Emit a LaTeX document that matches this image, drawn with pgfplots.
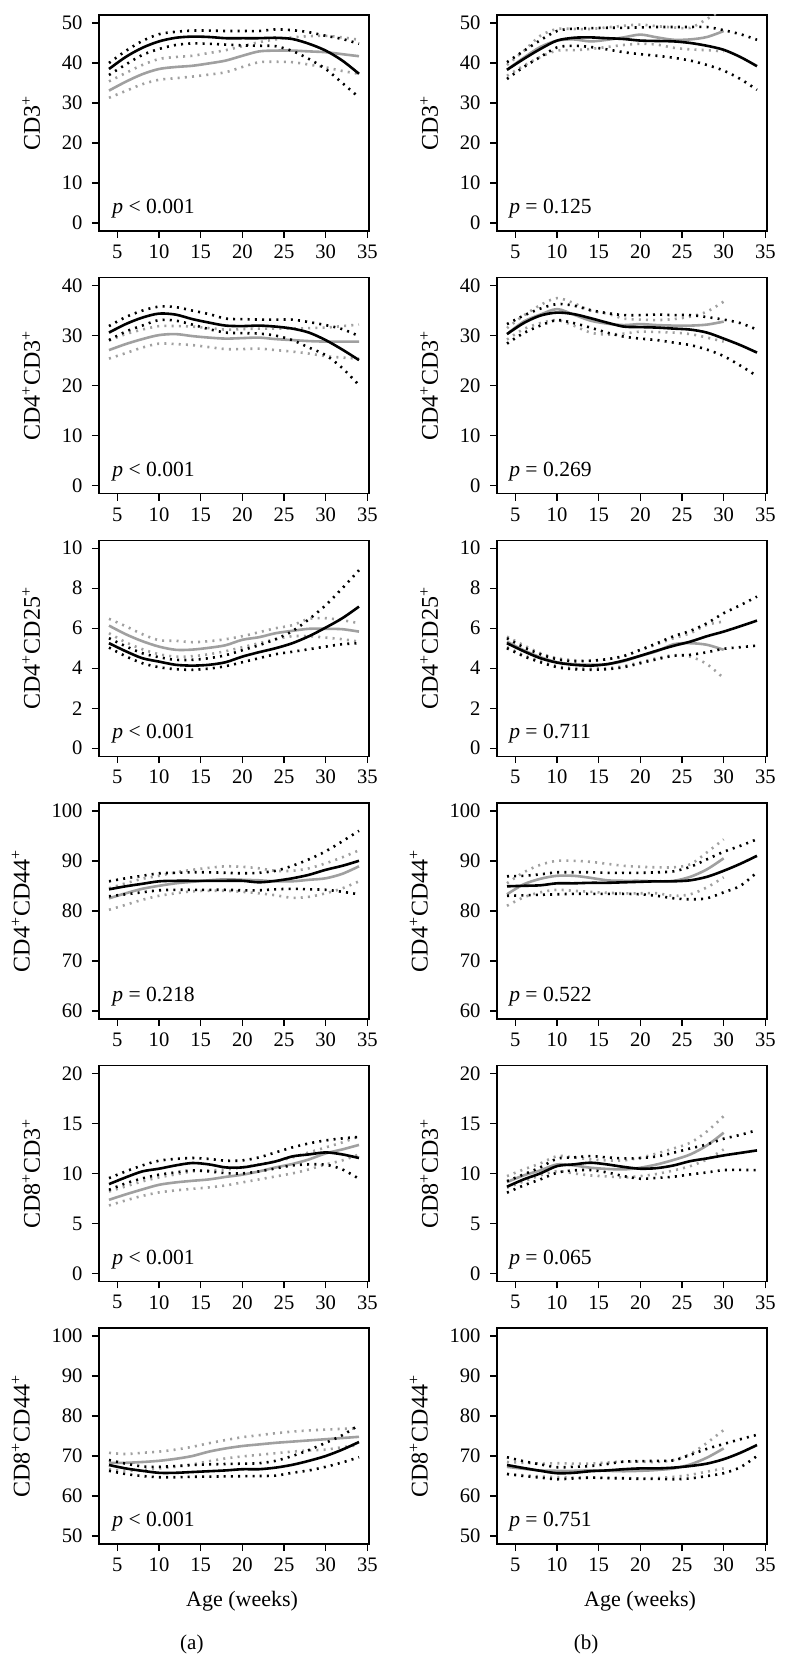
\documentclass[border=0pt]{standalone}
\usepackage{fontspec}
\setmainfont{Liberation Serif}
\usepackage{pgfplots}
\usepackage{pgfplotstable}
\pgfplotsset{compat=1.18}

\definecolor{lgray}{RGB}{160,160,160}

% columns: age, black mean/upper/lower, grey mean/upper/lower
\pgfplotstableread{
x B BU BL G GU GL
4 38.5 40.0 37.0 33.1 35.4 31.3
6 41.5 43.0 39.6 35.3 37.5 33.0
8 43.8 45.5 42.0 37.2 39.5 34.7
10 45.4 47.2 43.5 38.5 41.0 35.8
12 46.3 47.8 44.5 39.0 41.5 36.2
14 46.6 48.1 44.9 39.3 41.8 36.6
16 46.5 48.1 44.8 39.9 42.5 37.1
18 46.2 48.0 44.6 40.6 43.2 37.7
20 46.2 48.0 44.4 41.8 44.2 39.0
22 46.2 48.0 44.3 42.9 45.2 40.2
24 46.3 48.4 44.2 43.1 45.9 40.3
26 46.0 48.2 43.0 43.1 46.4 40.2
28 44.8 47.7 41.0 42.9 46.7 39.6
30 43.1 46.8 38.5 42.7 46.8 38.9
32 40.6 46.0 35.0 42.2 46.4 38.0
34 37.3 44.8 31.4 41.7 45.8 37.3
}\dataA
\pgfplotstableread{
x B BU BL G GU GL
4 38.3 40.2 36.0 38.3 39.5 36.8
6 41.0 43.0 39.0 41.3 43.0 39.3
8 43.5 45.7 41.5 44.0 46.8 41.5
10 45.6 48.0 43.9 45.6 48.5 43.1
12 46.3 48.6 44.3 45.9 48.5 43.2
14 46.4 48.7 44.0 45.4 48.5 43.5
16 46.2 48.8 43.4 45.8 48.9 44.0
18 46.0 48.8 42.7 46.4 49.3 44.5
20 45.6 48.9 42.2 47.1 49.6 44.8
22 45.5 49.0 41.8 46.4 49.2 44.6
24 45.4 49.0 41.3 45.8 48.9 43.8
26 45.0 49.0 40.6 45.9 48.8 43.4
28 44.3 49.0 39.5 46.5 51.0 43.2
30 43.3 48.2 38.1 48.0 53.5 42.9
32 41.5 47.2 36.0 nan nan nan
34 39.2 45.8 33.3 nan nan nan
}\dataB
\pgfplotstableread{
x B BU BL G GU GL
4 30.6 31.9 29.1 27.1 29.0 25.4
6 32.3 33.7 30.8 28.3 30.3 26.5
8 33.6 35.0 32.0 29.3 31.2 27.6
10 34.4 35.8 33.1 30.1 31.9 28.4
12 34.2 35.7 33.0 30.3 31.9 28.3
14 33.3 35.0 32.2 29.9 31.8 28.1
16 32.6 34.3 31.3 29.6 31.5 27.7
18 32.0 33.4 30.6 29.4 31.2 27.3
20 31.9 33.3 30.5 29.5 31.3 27.3
22 32.0 33.2 30.4 29.6 31.4 27.4
24 31.8 33.2 30.0 29.3 31.4 27.1
26 31.4 33.2 29.1 29.1 31.4 26.8
28 30.6 32.7 27.6 28.9 31.5 26.4
30 29.1 32.1 26.1 28.8 31.6 25.9
32 27.2 31.3 23.5 28.8 31.9 25.6
34 25.1 29.9 20.1 28.8 32.2 25.4
}\dataC
\pgfplotstableread{
x B BU BL G GU GL
4 30.3 32.3 28.4 30.3 31.5 29.2
6 32.5 34.0 30.5 32.8 34.0 31.3
8 34.0 35.4 32.0 34.2 36.1 32.5
10 34.6 36.3 33.1 35.3 37.5 33.1
12 34.3 36.0 32.5 34.2 36.5 32.0
14 33.5 35.1 31.6 33.0 35.0 30.6
16 32.6 34.5 30.6 32.4 34.4 30.2
18 31.8 34.1 29.8 32.1 33.4 30.4
20 31.7 34.1 29.4 32.3 33.2 30.8
22 31.6 34.2 29.1 32.1 33.1 30.7
24 31.4 34.1 28.6 32.0 33.3 30.6
26 31.2 34.1 28.1 32.0 33.8 30.3
28 30.6 33.7 27.2 32.2 34.8 29.6
30 29.4 33.2 25.9 32.8 36.8 28.8
32 28.1 32.5 24.0 nan nan nan
34 26.6 31.2 21.9 nan nan nan
}\dataD
\pgfplotstableread{
x B BU BL G GU GL
4 5.25 5.50 5.03 6.13 6.47 5.75
6 4.85 5.10 4.60 5.70 6.10 5.30
8 4.50 4.75 4.25 5.35 5.70 4.95
10 4.33 4.55 4.05 5.08 5.40 4.70
12 4.17 4.42 3.95 4.92 5.37 4.58
14 4.13 4.42 3.92 4.93 5.30 4.60
16 4.17 4.50 3.98 5.02 5.35 4.70
18 4.30 4.65 4.10 5.15 5.45 4.85
20 4.58 4.90 4.30 5.42 5.60 5.05
22 4.80 5.15 4.50 5.55 5.80 5.25
24 5.00 5.45 4.70 5.75 6.00 5.45
26 5.25 5.85 4.82 5.87 6.15 5.60
28 5.60 6.45 4.95 5.97 6.47 5.60
30 6.03 7.15 5.08 5.97 6.50 5.53
32 6.50 8.00 5.20 5.95 6.40 5.45
34 7.08 8.90 5.25 5.83 6.25 5.33
}\dataE
\pgfplotstableread{
x B BU BL G GU GL
4 5.25 5.50 5.00 5.33 5.58 5.05
6 4.85 5.05 4.60 4.90 5.15 4.65
8 4.50 4.70 4.30 4.55 4.75 4.35
10 4.28 4.45 4.05 4.30 4.50 4.10
12 4.17 4.35 3.95 4.20 4.40 4.00
14 4.13 4.37 3.92 4.17 4.38 3.98
16 4.20 4.45 3.95 4.20 4.45 4.00
18 4.38 4.60 4.05 4.35 4.62 4.10
20 4.62 4.92 4.25 4.62 4.90 4.30
22 4.88 5.25 4.45 4.85 5.20 4.50
24 5.12 5.60 4.62 5.20 5.50 4.65
26 5.33 5.87 4.67 5.25 5.75 4.58
28 5.60 6.25 4.80 5.17 6.17 4.20
30 5.83 6.75 4.97 4.92 6.33 3.50
32 6.10 7.15 5.05 nan nan nan
34 6.38 7.58 5.13 nan nan nan
}\dataF
\pgfplotstableread{
x B BU BL G GU GL
4 84.3 85.9 82.9 82.5 84.5 80.2
6 84.9 86.5 83.3 83.5 85.5 81.2
8 85.4 87.0 83.7 84.4 86.4 82.2
10 85.9 87.5 84.1 85.0 87.0 83.0
12 86.0 87.6 84.2 85.5 87.7 83.5
14 86.0 87.7 84.2 85.8 88.2 83.9
16 86.0 87.7 84.2 86.1 88.6 84.0
18 86.0 87.6 84.2 86.3 88.9 84.0
20 86.0 87.5 84.1 86.2 88.8 83.8
22 85.7 87.6 84.1 86.1 88.5 83.5
24 86.0 88.0 84.3 85.9 88.0 83.1
26 86.5 89.0 84.4 85.9 88.0 82.6
28 87.2 90.3 84.3 86.2 88.5 82.8
30 88.2 91.9 84.2 86.5 89.5 83.5
32 89.0 93.9 83.8 87.4 90.7 84.5
34 90.0 96.0 83.3 88.9 92.1 85.9
}\dataG
\pgfplotstableread{
x B BU BL G GU GL
4 84.9 86.9 83.0 83.3 85.5 81.0
6 85.0 87.0 83.1 85.3 87.7 82.7
8 85.1 87.3 83.2 86.4 89.2 83.7
10 85.5 87.7 83.3 87.0 90.0 84.2
12 85.5 87.7 83.4 87.0 90.0 84.0
14 85.6 87.7 83.4 86.6 89.8 83.8
16 85.6 87.6 83.4 86.1 89.4 83.6
18 85.7 87.6 83.4 86.0 89.0 83.5
20 85.8 87.6 83.3 86.0 88.8 83.5
22 85.9 87.7 83.0 85.9 88.7 83.5
24 85.9 87.9 82.5 86.0 88.7 83.0
26 86.1 88.8 82.3 86.8 89.3 83.3
28 86.8 90.3 82.5 88.3 91.7 84.7
30 88.0 91.8 83.7 90.5 94.3 86.7
32 89.4 93.0 85.0 nan nan nan
34 91.0 94.3 87.7 nan nan nan
}\dataH
\pgfplotstableread{
x B BU BL G GU GL
4 8.93 9.53 8.36 7.36 8.19 6.79
6 9.60 10.20 9.00 7.90 8.70 7.30
8 10.20 10.80 9.50 8.40 9.20 7.75
10 10.47 11.27 9.87 8.86 9.60 8.10
12 10.80 11.45 10.10 9.10 9.90 8.30
14 11.04 11.54 10.30 9.26 10.20 8.46
16 10.90 11.45 10.20 9.40 10.30 8.60
18 10.60 11.27 10.03 9.65 10.40 8.80
20 10.60 11.30 10.00 9.87 10.60 9.10
22 10.87 11.60 10.20 10.20 10.90 9.40
24 11.20 12.10 10.50 10.60 11.20 9.70
26 11.70 12.60 10.80 10.94 11.60 10.00
28 11.90 13.00 10.90 11.40 12.10 10.40
30 12.10 13.30 10.87 12.00 12.60 10.90
32 11.90 13.50 10.40 12.40 13.10 11.30
34 11.54 13.65 9.46 12.85 13.70 11.90
}\dataI
\pgfplotstableread{
x B BU BL G GU GL
4 8.67 9.23 8.07 9.13 9.73 8.57
6 9.40 9.90 8.80 9.80 10.40 9.20
8 10.00 10.60 9.40 10.30 11.00 9.80
10 10.73 11.47 10.07 10.90 11.73 10.23
12 10.90 11.60 10.30 10.80 11.60 10.00
14 11.07 11.73 10.33 10.57 11.40 9.80
16 10.90 11.60 10.10 10.45 11.30 9.70
18 10.65 11.50 9.73 10.40 11.30 9.60
20 10.47 11.53 9.47 10.57 11.57 9.73
22 10.53 11.70 9.55 10.90 12.00 9.95
24 10.80 12.07 9.67 11.35 12.50 10.30
26 11.23 12.50 9.90 11.90 13.07 10.73
28 11.50 12.90 10.10 12.80 14.20 11.40
30 11.80 13.47 10.33 14.07 15.73 12.40
32 12.05 13.85 10.35 nan nan nan
34 12.30 14.33 10.33 nan nan nan
}\dataJ
\pgfplotstableread{
x B BU BL G GU GL
4 67.75 69.0 66.3 68.3 70.8 66.7
6 66.9 68.1 65.5 68.3 70.5 66.3
8 66.3 67.4 65.0 68.5 70.8 66.5
10 65.8 67.3 64.7 68.8 71.1 66.9
12 65.8 67.5 64.7 69.3 71.6 67.3
14 66.0 67.75 64.8 70.0 72.3 67.9
16 66.2 67.9 64.85 71.1 73.2 68.7
18 66.4 68.0 64.9 71.9 74.0 69.4
20 66.7 68.1 64.95 72.5 74.7 69.9
22 66.7 68.2 65.0 72.9 75.2 70.3
24 67.1 68.8 65.1 73.3 75.7 70.7
26 67.8 70.0 65.8 73.6 76.1 71.1
28 68.8 71.5 66.4 73.9 76.4 71.4
30 70.0 73.3 67.3 74.2 76.6 71.6
32 71.6 75.2 68.4 74.5 76.8 72.2
34 73.5 77.75 69.7 74.8 76.9 72.75
}\dataK
\pgfplotstableread{
x B BU BL G GU GL
4 67.75 69.7 65.5 67.3 68.5 65.5
6 67.0 68.7 65.0 66.8 68.3 65.2
8 66.3 67.9 64.6 66.4 68.1 64.9
10 65.7 67.2 64.2 66.3 68.2 64.7
12 65.8 67.3 64.4 66.3 68.1 64.6
14 66.2 67.5 64.6 66.4 68.1 64.6
16 66.4 68.0 64.5 66.3 68.4 64.5
18 66.7 68.6 64.4 66.2 68.6 64.5
20 66.9 68.7 64.3 66.3 68.6 64.4
22 66.9 68.8 64.3 66.5 68.5 64.5
24 67.1 68.9 64.2 66.9 69.0 64.8
26 67.5 70.3 64.4 67.9 70.5 65.3
28 68.1 71.8 65.0 69.6 73.3 66.1
30 69.2 73.0 65.7 71.9 76.5 66.9
32 70.8 74.2 67.2 nan nan nan
34 72.75 75.3 70.0 nan nan nan
}\dataL

\pgfplotsset{
  panel/.style={
    scale only axis, width=135pt, height=108pt, anchor=north west,
    xmin=2.8, xmax=35.2, xtick={5,10,...,35},
    tick pos=left, tick align=outside, major tick length=3.5pt,
    axis line style={line width=0.7pt},
    every tick/.style={black, line width=0.7pt},
    /pgf/number format/assume math mode=true,
    ticklabel style={font=\fontsize{10.3}{12}\selectfont},
    yticklabel style={xshift=-1.2pt},
    ylabel style={font=\fontsize{12}{14}\selectfont},
    ylabel shift=4pt,
    unbounded coords=jump,
    clip mode=individual,
  },
  bmean/.style={black, line width=1.3pt, smooth},
  bci/.style={black, line width=1.3pt, dash pattern=on 1pt off 2.6pt, smooth},
  gmean/.style={lgray, line width=1.3pt, smooth},
  gci/.style={lgray, line width=1.3pt, dash pattern=on 1pt off 2.6pt, smooth},
}

\newcommand\curves[1]{%
  \addplot[gci] table[x=x,y=GU]{#1};
  \addplot[gci] table[x=x,y=GL]{#1};
  \addplot[gmean] table[x=x,y=G]{#1};
  \addplot[bci] table[x=x,y=BU]{#1};
  \addplot[bci] table[x=x,y=BL]{#1};
  \addplot[bmean] table[x=x,y=B]{#1};
}
\newcommand\pval[2]{\node[anchor=base west, font=\fontsize{10.8}{12}\selectfont, inner sep=0pt] at (axis description cs:#1,0.08) {#2};}

\begin{document}
\begin{tikzpicture}
\path[use as bounding box] (0,0) rectangle (394pt,-832pt);

% row 1: CD3+
\begin{axis}[panel, at={(49.5pt,-7.5pt)}, ymin=-2, ymax=52, ytick={0,10,...,50},
  ylabel={CD3\textsuperscript{+}}]
\curves{\dataA}
\pval{0.048}{\textit{p} < 0.001}
\end{axis}
\begin{axis}[panel, at={(248.5pt,-7.5pt)}, ymin=-2, ymax=52, ytick={0,10,...,50},
  ylabel={CD3\textsuperscript{+}}]
\curves{\dataB}
\pval{0.044}{\textit{p} = 0.125}
\end{axis}

% row 2: CD4+CD3+
\begin{axis}[panel, at={(49.5pt,-138.8pt)}, ymin=-1.6, ymax=41.6, ytick={0,10,...,40},
  ylabel={CD4\textsuperscript{+}CD3\textsuperscript{+}}]
\curves{\dataC}
\pval{0.048}{\textit{p} < 0.001}
\end{axis}
\begin{axis}[panel, at={(248.5pt,-138.8pt)}, ymin=-1.6, ymax=41.6, ytick={0,10,...,40},
  ylabel={CD4\textsuperscript{+}CD3\textsuperscript{+}}]
\curves{\dataD}
\pval{0.044}{\textit{p} = 0.269}
\end{axis}

% row 3: CD4+CD25+
\begin{axis}[panel, at={(49.5pt,-270.1pt)}, ymin=-0.4, ymax=10.4, ytick={0,2,...,10},
  ylabel={CD4\textsuperscript{+}CD25\textsuperscript{+}}]
\curves{\dataE}
\pval{0.048}{\textit{p} < 0.001}
\end{axis}
\begin{axis}[panel, at={(248.5pt,-270.1pt)}, ymin=-0.4, ymax=10.4, ytick={0,2,...,10},
  ylabel={CD4\textsuperscript{+}CD25\textsuperscript{+}}]
\curves{\dataF}
\pval{0.044}{\textit{p} = 0.711}
\end{axis}

% row 4: CD4+CD44+
\begin{axis}[panel, at={(49.5pt,-401.4pt)}, ymin=58.4, ymax=101.6, ytick={60,70,...,100},
  ylabel={CD4\textsuperscript{+}CD44\textsuperscript{+}}]
\curves{\dataG}
\pval{0.048}{\textit{p} = 0.218}
\end{axis}
\begin{axis}[panel, at={(248.5pt,-401.4pt)}, ymin=58.4, ymax=101.6, ytick={60,70,...,100},
  ylabel={CD4\textsuperscript{+}CD44\textsuperscript{+}}]
\curves{\dataH}
\pval{0.044}{\textit{p} = 0.522}
\end{axis}

% row 5: CD8+CD3+
\begin{axis}[panel, at={(49.5pt,-532.7pt)}, ymin=-0.8, ymax=20.8, ytick={0,5,...,20},
  ylabel={CD8\textsuperscript{+}CD3\textsuperscript{+}}]
\curves{\dataI}
\pval{0.048}{\textit{p} < 0.001}
\end{axis}
\begin{axis}[panel, at={(248.5pt,-532.7pt)}, ymin=-0.8, ymax=20.8, ytick={0,5,...,20},
  ylabel={CD8\textsuperscript{+}CD3\textsuperscript{+}}]
\curves{\dataJ}
\pval{0.044}{\textit{p} = 0.065}
\end{axis}

% row 6: CD8+CD44+
\begin{axis}[panel, at={(49.5pt,-664pt)}, ymin=48, ymax=102, ytick={50,60,...,100},
  ylabel={CD8\textsuperscript{+}CD44\textsuperscript{+}},
  xlabel={Age (weeks)},
  xlabel style={at={(axis description cs:0.53,-0.264)}, anchor=center, font=\fontsize{11}{13}\selectfont}]
\curves{\dataK}
\pval{0.048}{\textit{p} < 0.001}
\node[font=\fontsize{10.5}{12}\selectfont] at (axis description cs:0.344,-0.463) {(a)};
\end{axis}
\begin{axis}[panel, at={(248.5pt,-664pt)}, ymin=48, ymax=102, ytick={50,60,...,100},
  ylabel={CD8\textsuperscript{+}CD44\textsuperscript{+}},
  xlabel={Age (weeks)},
  xlabel style={at={(axis description cs:0.53,-0.264)}, anchor=center, font=\fontsize{11}{13}\selectfont}]
\curves{\dataL}
\pval{0.044}{\textit{p} = 0.751}
\node[font=\fontsize{10.5}{12}\selectfont] at (axis description cs:0.33,-0.463) {(b)};
\end{axis}
\end{tikzpicture}
\end{document}
